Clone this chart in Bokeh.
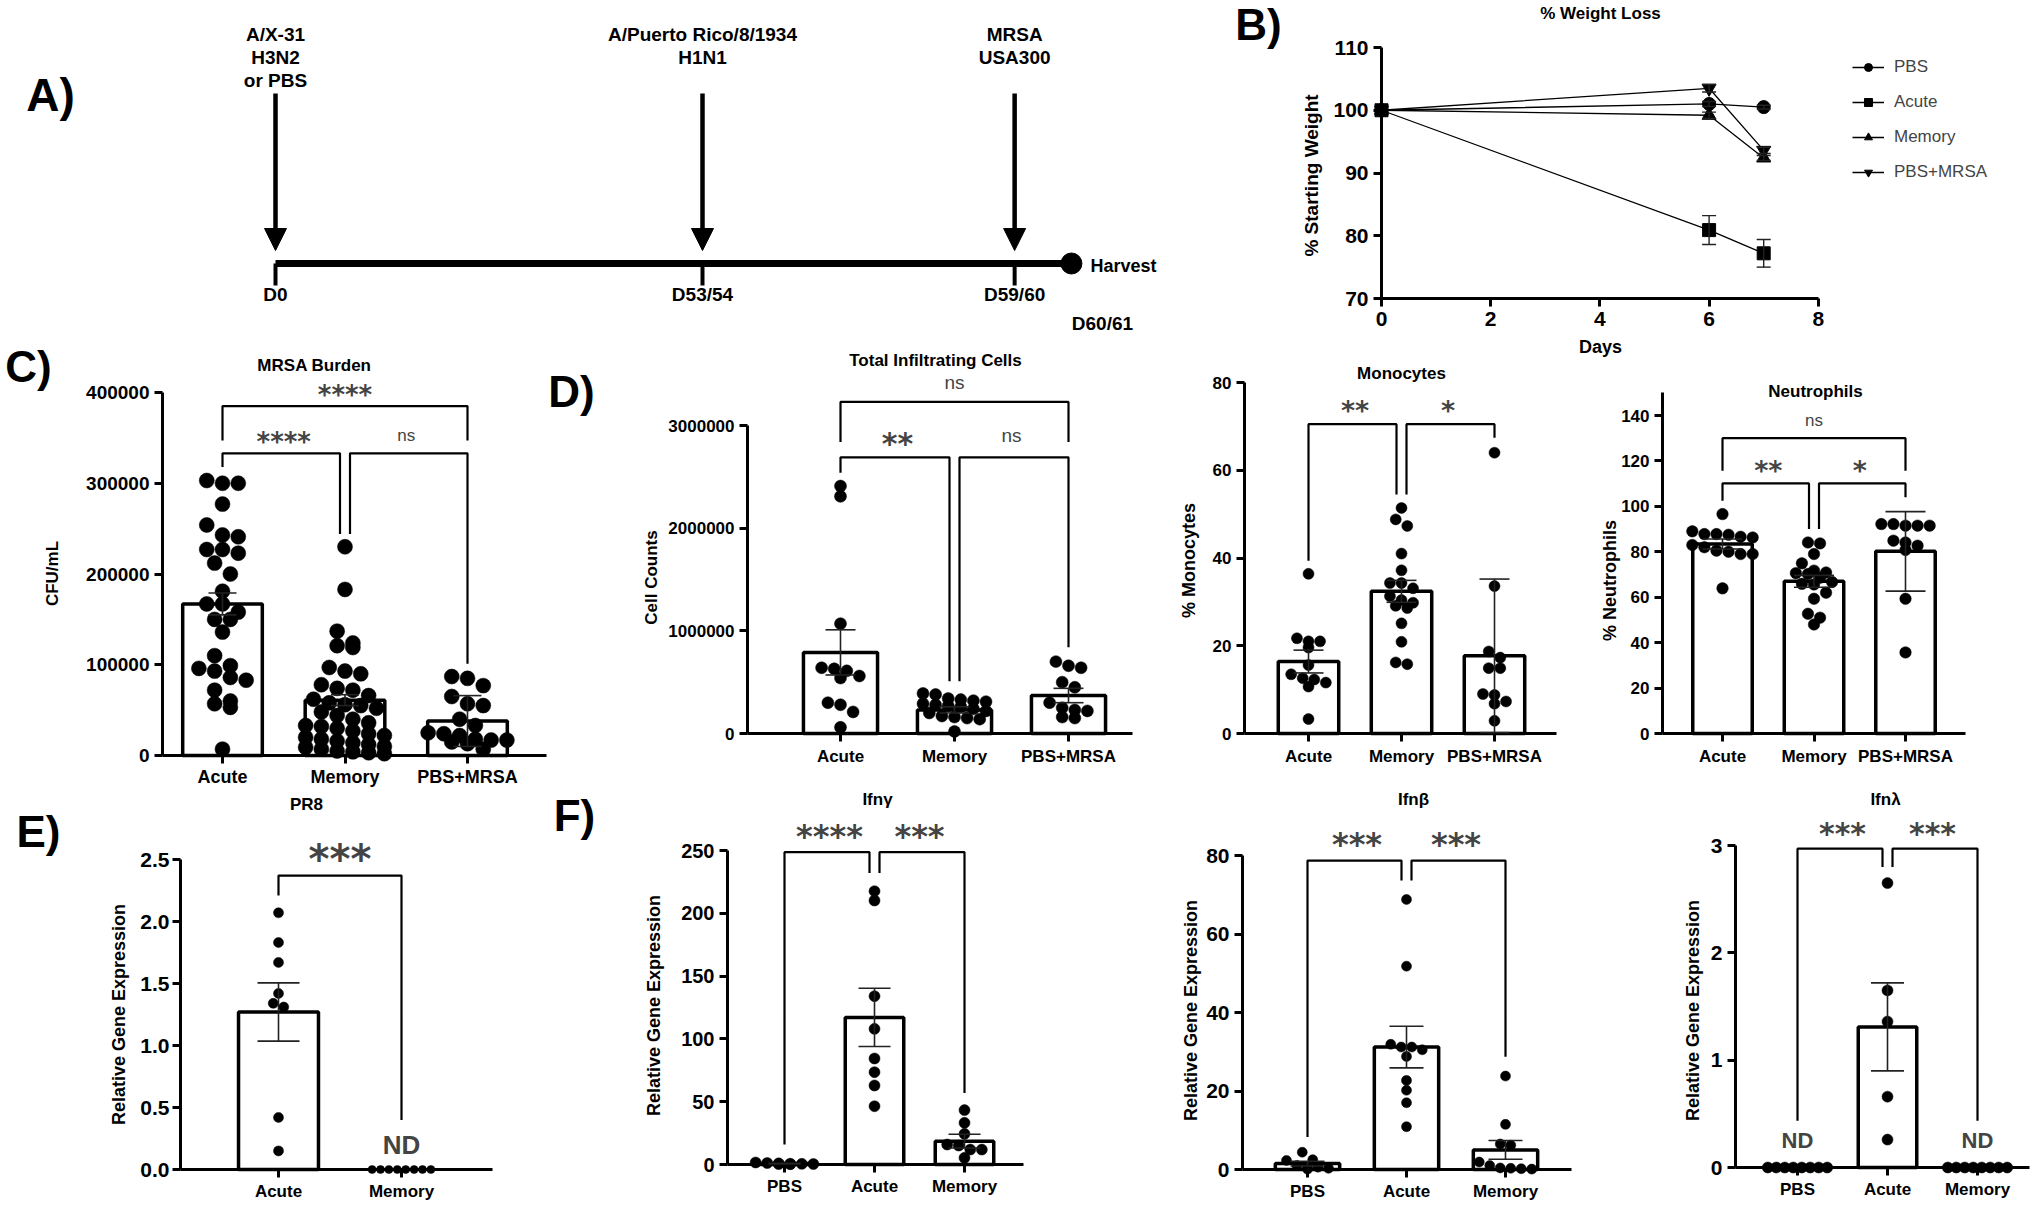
import math
from bokeh.plotting import figure
from bokeh.layouts import row, column
from bokeh.models import (Range1d, FixedTicker, Label, Whisker, TeeHead, ColumnDataSource,
                          Arrow, NormalHead, Legend, LegendItem, BasicTickFormatter, PrintfTickFormatter)
from bokeh.embed import file_html
from bokeh.resources import INLINE

# ======================= DATA =======================
# A) experimental timeline (schematic positions, not to scale)
tl_events = ["D0", "D53/54", "D59/60"]
tl_pos = [0.0, 1.0, 1.731]
tl_agents = [["A/X-31", "H3N2", "or PBS"], ["A/Puerto Rico/8/1934", "H1N1"], ["MRSA", "USA300"]]
tl_harvest_pos = 1.864
tl_harvest_text = "Harvest"
tl_harvest_day = "D60/61"

# B) % weight loss
wl_days = [0, 6, 7]
wl_groups = ["PBS", "Acute", "Memory", "PBS+MRSA"]
wl_pbs = [100.0, 101.0, 100.5]
wl_acute = [100.0, 80.9, 77.2]
wl_memory = [100.0, 99.2, 92.4]
wl_pbs_mrsa = [100.0, 103.5, 93.6]
wl_pbs_err = [0.0, 0.4, 0.3]
wl_acute_err = [0.0, 2.3, 2.2]
wl_memory_err = [0.0, 0.5, 0.4]
wl_pbs_mrsa_err = [0.0, 0.6, 0.5]
wl_yticks = [70, 80, 90, 100, 110]
wl_xticks = [0, 2, 4, 6, 8]

# C) MRSA burden (CFU/mL)
c_cats = ["Acute", "Memory", "PBS+MRSA"]
c_acute = [303000, 300000, 300000, 277000, 254000, 243000, 241000, 227000, 227000, 223000,
           212000, 200000, 181000, 167000, 167000, 158000, 150000, 150000, 136000, 110000,
           99000, 96000, 93000, 86000, 83000, 72000, 60000, 57000, 53000, 7000]
c_memory = [230000, 183000, 137000, 124000, 121000, 119000, 97000, 93000, 90000, 78000,
            74000, 72000, 66000, 62000, 58000, 56000, 55000, 52000, 48000, 44000,
            40000, 36000, 33000, 32000, 30000, 27000, 24000, 22000, 20000, 18000,
            16000, 14000, 12000, 10000, 9000, 7000, 5000, 4000, 3000, 2000]
c_pbs_mrsa = [87000, 85000, 77000, 65000, 57000, 55000, 40000, 33000, 25000, 24000,
              22000, 18000, 17000, 17000, 15000, 13000, 7000]
c_mean = [167000, 61000, 38000]
c_err = [12000, 6000, 28000]
c_yticks = [0, 100000, 200000, 300000, 400000]
c_brackets = [(0, 2, 385000, 347000, 347000, "****", 401000),
              (0, 1, 333000, 318000, 244000, "****", 349000),
              (1, 2, 333000, 244000, 101000, "ns", 351000)]

# D) total infiltrating cells
d1_cats = ["Acute", "Memory", "PBS+MRSA"]
d1_acute = [2410000, 2310000, 1070000, 640000, 630000, 610000, 560000, 540000, 300000, 280000, 210000, 60000]
d1_memory = [390000, 380000, 340000, 330000, 320000, 310000, 290000, 280000, 270000, 260000,
             240000, 220000, 200000, 170000, 160000, 150000, 140000, 20000]
d1_pbs_mrsa = [700000, 660000, 640000, 500000, 450000, 300000, 250000, 230000, 220000, 160000, 150000]
d1_mean = [790000, 230000, 370000]
d1_err = [220000, 30000, 70000]
d1_yticks = [0, 1000000, 2000000, 3000000]
d1_brackets = [(0, 2, 3230000, 2840000, 2840000, "ns", 3400000),
               (0, 1, 2690000, 2540000, 510000, "**", 2860000),
               (1, 2, 2690000, 510000, 840000, "ns", 2890000)]

# D) % monocytes
d2_cats = ["Acute", "Memory", "PBS+MRSA"]
d2_acute = [36.4, 21.7, 21.0, 21.0, 19.6, 15.6, 13.5, 12.6, 12.3, 11.6, 10.7, 3.3]
d2_memory = [51.4, 48.8, 47.3, 41.0, 37.2, 34.3, 34.3, 33.1, 31.3, 30.4, 29.8, 29.1, 28.6, 25.1, 20.9, 16.2, 15.8]
d2_pbs_mrsa = [64.0, 33.6, 18.7, 17.3, 14.9, 14.9, 9.0, 8.8, 7.3, 6.8, 2.9]
d2_mean = [16.4, 32.4, 17.7]
d2_err = [2.6, 2.5, 17.5]
d2_yticks = [0, 20, 40, 60, 80]
d2_brackets = [(0, 1, 70.5, 39.4, 54.5, "**", 74.4),
               (1, 2, 70.5, 54.5, 67.4, "*", 74.4)]

# D) % neutrophils
d3_cats = ["Acute", "Memory", "PBS+MRSA"]
d3_acute = [96.6, 89.0, 87.8, 87.8, 87.5, 86.6, 86.3, 83.0, 82.0, 80.5, 80.0, 79.0, 79.0, 63.9]
d3_memory = [84.1, 83.7, 79.0, 74.9, 71.7, 70.9, 70.6, 70.2, 68.6, 66.7, 65.9, 65.6, 62.0, 59.3, 52.7, 51.0, 48.0]
d3_pbs_mrsa = [92.2, 92.2, 91.5, 91.5, 91.5, 84.9, 84.1, 82.7, 80.8, 59.3, 35.7]
d3_mean = [83.4, 67.0, 80.2]
d3_err = [2.2, 2.6, 17.5]
d3_yticks = [0, 20, 40, 60, 80, 100, 120, 140]
d3_brackets = [(0, 2, 130.0, 115.7, 115.7, "ns", 137.3),
               (0, 1, 110.1, 102.5, 90.0, "**", 117.0),
               (1, 2, 110.1, 90.0, 104.0, "*", 117.0)]

# E) PR8 relative gene expression
e_cats = ["Acute", "Memory"]
e_acute = [2.07, 1.83, 1.67, 1.42, 1.34, 1.31, 0.42, 0.15]
e_memory = [0, 0, 0, 0, 0, 0, 0, 0]
e_mean = [1.27, None]
e_err = [0.235, None]
e_nd = [False, True]
e_yticks = [0, 0.5, 1.0, 1.5, 2.0, 2.5]
e_brackets = [(0, 1, 2.37, 2.21, 0.40, "***", 2.54)]

# F) Ifn-gamma
f1_cats = ["PBS", "Acute", "Memory"]
f1_pbs = [1.6, 1.2, 0.9, 0.6, 0.5, 0.4, 0.3, 0.2]
f1_acute = [217.6, 210.2, 134.0, 108.0, 84.4, 73.5, 62.9, 46.4]
f1_memory = [43.3, 33.2, 24.4, 15.9, 15.1, 11.9, 11.9, 5.3]
f1_mean = [0.7, 117.1, 18.6]
f1_err = [0.2, 23.2, 5.5]
f1_yticks = [0, 50, 100, 150, 200, 250]
f1_brackets = [(0, 1, 248.7, 15.9, 232.0, "****", 265.0),
               (1, 2, 248.7, 232.0, 57.0, "***", 265.0)]

# F) Ifn-beta
f2_cats = ["PBS", "Acute", "Memory"]
f2_pbs = [4.4, 2.5, 2.3, 1.0, 0.7, 0.6, 0.3, 0.1]
f2_acute = [68.8, 51.8, 31.9, 31.2, 31.2, 30.5, 28.8, 22.7, 20.2, 17.0, 10.9]
f2_memory = [23.8, 11.5, 6.5, 6.2, 1.9, 1.0, 0.4, 0.3, 0.2, 0.1]
f2_mean = [1.5, 31.2, 5.0]
f2_err = [0.6, 5.3, 2.4]
f2_yticks = [0, 20, 40, 60, 80]
f2_brackets = [(0, 1, 78.7, 8.3, 73.6, "***", 84.0),
               (1, 2, 78.7, 73.6, 28.7, "***", 84.0)]

# F) Ifn-lambda
f3_cats = ["PBS", "Acute", "Memory"]
f3_pbs = [0, 0, 0, 0, 0, 0, 0, 0]
f3_acute = [2.65, 1.65, 1.36, 0.66, 0.26]
f3_memory = [0, 0, 0, 0, 0, 0, 0, 0]
f3_mean = [None, 1.31, None]
f3_err = [None, 0.41, None]
f3_nd = [True, False, True]
f3_yticks = [0, 1, 2, 3]
f3_brackets = [(0, 1, 2.97, 0.435, 2.80, "***", 3.15),
               (1, 2, 2.97, 2.80, 0.435, "***", 3.15)]

# ======================= HELPERS =======================
SANS = "Liberation Sans"
STAR = "DejaVu Sans"


def make_fig(box, xr, yr, axes=True):
    """Figure whose plotting frame is the whole figure (axes are drawn at fixed locations)."""
    x0, y0, x1, y1 = box
    kw = {}
    if not axes:
        kw = dict(x_axis_location=None, y_axis_location=None)
    p = figure(width=int(round(x1 - x0)), height=int(round(y1 - y0)),
               x_range=Range1d(*xr), y_range=Range1d(*yr),
               output_backend="svg", toolbar_location=None,
               min_border_left=0, min_border_right=0, min_border_top=0, min_border_bottom=0, **kw)
    p.title.visible = False
    p.grid.visible = False
    p.outline_line_color = None
    p.background_fill_color = "white"
    p.border_fill_color = "white"

    def conv(x, y):
        return (xr[0] + (x - x0) / (x1 - x0) * (xr[1] - xr[0]),
                yr[1] - (y - y0) / (y1 - y0) * (yr[1] - yr[0]))
    return p, conv


def add_text(p, conv, x, y, s, size, bold=True, font=SANS, angle=0.0, align="center"):
    dx, dy = conv(x, y)
    p.add_layout(Label(x=dx, y=dy, text=s, text_font=font, text_font_size=f"{size}px",
                       text_font_style="bold" if bold else "normal", angle=angle,
                       text_align=align, text_baseline="middle", text_color="black"))


def style_axis(ax, fs, lw=3, standoff=5):
    ax.axis_line_width = lw
    ax.axis_line_color = "black"
    ax.major_tick_line_width = lw
    ax.major_tick_line_color = "black"
    ax.major_tick_out = 8
    ax.major_tick_in = 0
    ax.minor_tick_line_color = None
    ax.major_label_text_font = SANS
    ax.major_label_text_font_size = f"{fs}px"
    ax.major_label_text_font_style = "bold"
    ax.major_label_text_color = "black"
    ax.major_label_standoff = standoff


def swarm(vals, d, k, sp, frac=0.33):
    n = len(vals)
    order = sorted(range(n), key=lambda i: -vals[i])
    maxw = frac * sp
    cap = max(1, int(2 * maxw // (1.05 * d)) + 1)
    rows, cur = [], []
    for i in order:
        if cur and (vals[cur[0]] - vals[i]) * k < 0.8 * d and (len(cur) < cap or vals[i] == vals[cur[0]]):
            cur.append(i)
        else:
            if cur:
                rows.append(cur)
            cur = [i]
    if cur:
        rows.append(cur)
    off = [0.0] * n
    for r in rows:
        m = len(r)
        step = 1.05 * d if m == 1 else min(1.05 * d, 2 * maxw / (m - 1))
        for j, i in enumerate(r):
            off[i] = (j - (m - 1) / 2) * step / sp
    return off


def bar_panel(L, cats, groups, means, errs, yticks, ybound, brackets, title, ylabel,
              letter=None, nd=None, nd_y=None, yfmt=None):
    sp, k = L["sp"], L["k"]
    bx0, by0, bx1, by1 = L["box"]
    xr = ((bx0 - L["cat0"]) / sp, (bx1 - L["cat0"]) / sp)
    yr = (-(by1 - L["y0"]) / k, (L["y0"] - by0) / k)
    p, conv = make_fig(L["box"], xr, yr)
    xa, ya = p.xaxis[0], p.yaxis[0]
    style_axis(xa, L["cat_fs"], standoff=L.get("cat_standoff", 5))
    style_axis(ya, L["tick_fs"], standoff=L.get("tick_standoff", 5))
    ax_pos = (L["axis_x"] - L["cat0"]) / sp
    xa.fixed_location = 0
    xa.bounds = (ax_pos, (L["x_end"] - L["cat0"]) / sp)
    xa.ticker = FixedTicker(ticks=list(range(len(cats))))
    xa.major_label_overrides = {i: c for i, c in enumerate(cats)}
    ya.fixed_location = ax_pos
    ya.ticker = FixedTicker(ticks=yticks)
    ya.bounds = (0, ybound)
    ya.formatter = PrintfTickFormatter(format=yfmt) if yfmt else BasicTickFormatter(use_scientific=False)

    bx = [i for i, m in enumerate(means) if m is not None]
    p.vbar(x=bx, top=[means[i] for i in bx], bottom=0, width=0.65,
           fill_color="white", line_color="black", line_width=3.5)

    ex = [i for i, e in enumerate(errs) if e is not None]
    if ex:
        src = ColumnDataSource(dict(base=ex, upper=[means[i] + errs[i] for i in ex],
                                    lower=[max(0, means[i] - errs[i]) for i in ex]))
        w = Whisker(source=src, base="base", upper="upper", lower="lower",
                    line_color="#222222", line_width=1.6, level="annotation",
                    upper_head=TeeHead(size=L["cap"], line_width=1.6, line_color="#222222"),
                    lower_head=TeeHead(size=L["cap"], line_width=1.6, line_color="#222222"))
        p.add_layout(w)

    for i, vals in enumerate(groups):
        d = L["nd_dot"] if (nd is not None and nd[i]) else L["dot"]
        off = swarm(vals, d, k, sp)
        p.scatter(x=[i + o for o in off], y=vals, size=d, marker="circle",
                  fill_color="black", line_color="black", line_width=0.5)

    g = 5.0 / sp
    for b in brackets:
        i, j, yb, yli, ylj, lab, ly = b
        xi = i + (g if any((o[1] == i and o[2] == yb) for o in brackets if o is not b) else 0)
        xj = j - (g if any((o[0] == j and o[2] == yb) for o in brackets if o is not b) else 0)
        p.multi_line(xs=[[xi, xi, xj, xj]], ys=[[yli, yb, yb, ylj]], line_color="black", line_width=2.2)
        if "*" in lab:
            fs = L["star_fs"]
            p.add_layout(Label(x=(i + j) / 2, y=ly - 0.12 * fs / k, text=lab, text_font=STAR,
                               text_font_size=f"{fs}px", text_font_style="bold",
                               text_align="center", text_baseline="middle"))
        else:
            fs = L["ns_fs"]
            p.add_layout(Label(x=(i + j) / 2, y=ly + 0.09 * fs / k, text=lab, text_font=SANS,
                               text_font_size=f"{fs}px", text_font_style="normal",
                               text_align="center", text_baseline="middle"))

    if nd is not None:
        for i, flag in enumerate(nd):
            if flag:
                fs = L["nd_fs"]
                p.add_layout(Label(x=i, y=nd_y, text="ND", text_font=SANS,
                                   text_font_size=f"{fs}px", text_font_style="bold",
                                   text_align="center", text_baseline="middle"))

    add_text(p, conv, L["title_xy"][0], L["title_xy"][1], title, L["title_fs"])
    add_text(p, conv, L["ylabel_xy"][0], L["ylabel_xy"][1], ylabel, L["ylabel_fs"], angle=math.pi / 2)
    if letter:
        add_text(p, conv, L["letter_xy"][0], L["letter_xy"][1], letter, 44)
    return p


# ======================= PANEL A =======================
A_box = (0, 0, 1165, 338)
A_x0, A_unit, A_line = 275.0, 427.0, 263.0
A_xr = ((A_box[0] - A_x0) / A_unit, (A_box[2] - A_x0) / A_unit)
A_yr = (-(A_box[3] - A_line), A_line - A_box[1])
pA, convA = make_fig(A_box, A_xr, A_yr, axes=False)


def a_px(pos):
    return A_x0 + pos * A_unit


pA.segment(x0=[tl_pos[0]], y0=[0], x1=[tl_harvest_pos], y1=[0], line_width=7, line_color="black")
tick_bottom = convA(0, 285)[1]
pA.segment(x0=tl_pos, y0=[0] * len(tl_pos), x1=tl_pos, y1=[tick_bottom] * len(tl_pos),
           line_width=4, line_color="black")
pA.scatter(x=[tl_harvest_pos], y=[0], size=21, marker="circle", color="black")
arr_top = convA(0, 93)[1]
arr_tip = convA(0, 250)[1]
for pos in tl_pos:
    pA.add_layout(Arrow(x_start=pos, y_start=arr_top, x_end=pos, y_end=arr_tip,
                        line_width=4.5, line_color="black",
                        end=NormalHead(size=22, fill_color="black", line_color="black", line_width=1)))
line_ys = [34, 57, 80]
for pos, lines in zip(tl_pos, tl_agents):
    for li, s in enumerate(lines):
        add_text(pA, convA, a_px(pos), line_ys[li], s, 19)
for pos, ev in zip(tl_pos, tl_events):
    add_text(pA, convA, a_px(pos), 294, ev, 19)
add_text(pA, convA, a_px(tl_harvest_pos) + 19, 265, tl_harvest_text, 18, align="left")
add_text(pA, convA, a_px(tl_harvest_pos) + 31, 323, tl_harvest_day, 19)
add_text(pA, convA, 50, 94, "A)", 46)

# ======================= PANEL B =======================
B_box = (1165, 0, 2031, 358)
B_ax0, B_kx, B_y70, B_ky = 1381.0, 54.6, 298.0, 6.275
B_xr = ((B_box[0] - B_ax0) / B_kx, (B_box[2] - B_ax0) / B_kx)
B_yr = (70 - (B_box[3] - B_y70) / B_ky, 70 + (B_y70 - B_box[1]) / B_ky)
pB, convB = make_fig(B_box, B_xr, B_yr)
style_axis(pB.xaxis[0], 21)
style_axis(pB.yaxis[0], 21)
pB.yaxis[0].fixed_location = 0
pB.yaxis[0].bounds = (70, 110)
pB.yaxis[0].ticker = FixedTicker(ticks=wl_yticks)
pB.xaxis[0].fixed_location = 70
pB.xaxis[0].bounds = (0, 8)
pB.xaxis[0].ticker = FixedTicker(ticks=wl_xticks)

series = [(wl_pbs, wl_pbs_err, "circle", 13), (wl_acute, wl_acute_err, "square", 13),
          (wl_memory, wl_memory_err, "triangle", 14), (wl_pbs_mrsa, wl_pbs_mrsa_err, "inverted_triangle", 14)]
items = []
for name, (vals, errs, mk, sz) in zip(wl_groups, series):
    lr = pB.line(wl_days, vals, line_color="black", line_width=1.3)
    sr = pB.scatter(wl_days, vals, marker=mk, size=sz, color="black")
    ei = [i for i, e in enumerate(errs) if e > 0]
    src = ColumnDataSource(dict(base=[wl_days[i] for i in ei], upper=[vals[i] + errs[i] for i in ei],
                                lower=[vals[i] - errs[i] for i in ei]))
    pB.add_layout(Whisker(source=src, base="base", upper="upper", lower="lower",
                          line_color="#222222", line_width=1.4, level="annotation",
                          upper_head=TeeHead(size=14, line_width=1.4, line_color="#222222"),
                          lower_head=TeeHead(size=14, line_width=1.4, line_color="#222222")))
    items.append(LegendItem(label=name, renderers=[lr, sr]))
leg = Legend(items=items, location=(1848 - B_box[0], B_box[3] - 186),
             background_fill_alpha=0, border_line_alpha=0, label_text_font=SANS,
             label_text_font_size="17px", glyph_width=32, glyph_height=20, spacing=15,
             padding=4, label_standoff=10, margin=0)
pB.add_layout(leg)
add_text(pB, convB, 1600, 13, "% Weight Loss", 17)
add_text(pB, convB, 1311, 175, "% Starting Weight", 19, angle=math.pi / 2)
add_text(pB, convB, 1600, 346, "Days", 18)
add_text(pB, convB, 1258, 24, "B)", 44)

# ======================= ROW 2 =======================
L_C = dict(box=(0, 338, 548, 790), axis_x=162, cat0=222, sp=122.5, x_end=546, y0=755,
           k=363 / 400000, dot=15, nd_dot=10, cap=28, tick_fs=19, cat_fs=18, cat_standoff=3,
           star_fs=26, ns_fs=17, nd_fs=24, title_xy=(314, 365), title_fs=17,
           ylabel_xy=(52, 573), ylabel_fs=17, letter_xy=(28, 366))
pC = bar_panel(L_C, c_cats, [c_acute, c_memory, c_pbs_mrsa], c_mean, c_err, c_yticks, 400000,
               c_brackets, "MRSA Burden", "CFU/mL", letter="C)")

L_D1 = dict(box=(548, 338, 1165, 790), axis_x=747, cat0=840, sp=114, x_end=1132, y0=733,
            k=308 / 3000000, dot=12, nd_dot=9, cap=30, tick_fs=17, cat_fs=17,
            star_fs=30, ns_fs=19, nd_fs=22, title_xy=(935, 360), title_fs=17,
            ylabel_xy=(651, 577), ylabel_fs=17, letter_xy=(571, 391))
pD1 = bar_panel(L_D1, d1_cats, [d1_acute, d1_memory, d1_pbs_mrsa], d1_mean, d1_err, d1_yticks,
                3000000, d1_brackets, "Total Infiltrating Cells", "Cell Counts", letter="D)")

L_D2 = dict(box=(1165, 358, 1590, 790), axis_x=1244, cat0=1308, sp=93, x_end=1556, y0=733,
            k=351 / 80, dot=11, nd_dot=9, cap=30, tick_fs=17, cat_fs=17,
            star_fs=27, ns_fs=17, nd_fs=22, title_xy=(1401, 373), title_fs=17,
            ylabel_xy=(1188, 560), ylabel_fs=18)
pD2 = bar_panel(L_D2, d2_cats, [d2_acute, d2_memory, d2_pbs_mrsa], d2_mean, d2_err, d2_yticks,
                80, d2_brackets, "Monocytes", "% Monocytes")

L_D3 = dict(box=(1590, 358, 2031, 790), axis_x=1662, cat0=1722, sp=91.5, x_end=1965, y0=733,
            k=318 / 140, dot=11.5, nd_dot=9, cap=40, tick_fs=17, cat_fs=17,
            star_fs=27, ns_fs=17, nd_fs=22, title_xy=(1815, 391), title_fs=17,
            ylabel_xy=(1609, 580), ylabel_fs=18)
pD3 = bar_panel(L_D3, d3_cats, [d3_acute, d3_memory, d3_pbs_mrsa], d3_mean, d3_err, d3_yticks,
                150, d3_brackets, "Neutrophils", "% Neutrophils")

# ======================= ROW 3 =======================
L_E = dict(box=(0, 790, 550, 1204), axis_x=180, cat0=278, sp=123, x_end=492, y0=1169,
           k=(1169 - 859) / 2.5, dot=10, nd_dot=8, cap=42, tick_fs=21, tick_standoff=3,
           cat_fs=17, cat_standoff=4,
           star_fs=40, ns_fs=17, nd_fs=26, title_xy=(306, 804), title_fs=17,
           ylabel_xy=(118, 1014), ylabel_fs=18, letter_xy=(38, 831))
pE = bar_panel(L_E, e_cats, [e_acute, e_memory], e_mean, e_err, e_yticks, 2.5, e_brackets,
               "PR8", "Relative Gene Expression", letter="E)", nd=e_nd, nd_y=0.196, yfmt="%.1f")

L_F1 = dict(box=(550, 790, 1120, 1204), axis_x=727, cat0=784, sp=90, x_end=1023, y0=1164,
            k=314 / 250, dot=11, nd_dot=10, cap=32, tick_fs=20, cat_fs=17, cat_standoff=4,
            star_fs=32, ns_fs=17, nd_fs=22, title_xy=(877, 799), title_fs=17,
            ylabel_xy=(653, 1005), ylabel_fs=18, letter_xy=(574, 815))
pF1 = bar_panel(L_F1, f1_cats, [f1_pbs, f1_acute, f1_memory], f1_mean, f1_err, f1_yticks, 250,
                f1_brackets, "Ifn\u03b3", "Relative Gene Expression", letter="F)")

L_F2 = dict(box=(1120, 790, 1590, 1204), axis_x=1242, cat0=1307, sp=99, x_end=1571, y0=1169,
            k=314 / 80, dot=10, nd_dot=10, cap=34, tick_fs=21, cat_fs=17, cat_standoff=4,
            star_fs=32, ns_fs=17, nd_fs=22, title_xy=(1413, 799), title_fs=17,
            ylabel_xy=(1190, 1010), ylabel_fs=18)
pF2 = bar_panel(L_F2, f2_cats, [f2_pbs, f2_acute, f2_memory], f2_mean, f2_err, f2_yticks, 80,
                f2_brackets, "Ifn\u03b2", "Relative Gene Expression")

L_F3 = dict(box=(1590, 790, 2031, 1204), axis_x=1735, cat0=1797, sp=90, x_end=2029, y0=1167,
            k=322 / 3, dot=11, nd_dot=11, cap=33, tick_fs=21, cat_fs=17, cat_standoff=4,
            star_fs=30, ns_fs=17, nd_fs=22, title_xy=(1885, 799), title_fs=17,
            ylabel_xy=(1692, 1010), ylabel_fs=18)
pF3 = bar_panel(L_F3, f3_cats, [f3_pbs, f3_acute, f3_memory], f3_mean, f3_err, f3_yticks, 3,
                f3_brackets, "Ifn\u03bb", "Relative Gene Expression", nd=f3_nd, nd_y=0.255)

# ======================= LAYOUT =======================
left_col = column(pA, row(pC, pD1, spacing=0), spacing=0)
right_col = column(pB, row(pD2, pD3, spacing=0), spacing=0)
top_part = row(left_col, right_col, spacing=0)
bottom = row(pE, pF1, pF2, pF3, spacing=0)
page = column(top_part, bottom, spacing=0)

open("out.html", "w").write(file_html(page, INLINE))
